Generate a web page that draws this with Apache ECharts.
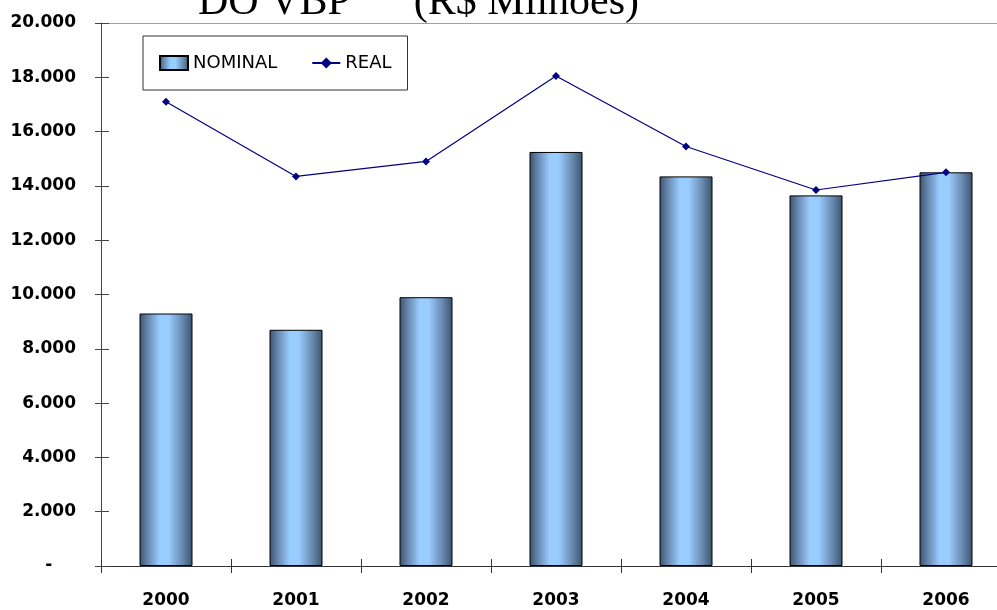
<!DOCTYPE html>
<html>
<head>
<meta charset="utf-8">
<script src="https://cdn.jsdelivr.net/npm/echarts@6/dist/echarts.min.js"></script>
<style>
  html, body { margin: 0; padding: 0; background: #fff; overflow: hidden; }
  /* the original chart runs a bit past the right edge of the picture */
  #chart_div { width: 1011px; height: 610px; }
</style>
</head>
<body>
<div id="chart_div"></div>
<script>
var years = ['2000', '2001', '2002', '2003', '2004', '2005', '2006'];
var nominal = [9300, 8700, 9900, 15250, 14350, 13650, 14500];
var real = [17100, 14350, 14900, 18050, 15450, 13850, 14500];
var yTicks = [0, 2000, 4000, 6000, 8000, 10000, 12000, 14000, 16000, 18000, 20000];

function fmt(v) {
  if (v === 0) return '-    ';
  return String(v).replace(/\B(?=(\d{3})+(?!\d))/g, '.');
}

var barFill = new echarts.graphic.LinearGradient(0, 0, 1, 0, [
  { offset: 0, color: '#3b536d' },
  { offset: 0.15, color: '#6585ab' },
  { offset: 0.38, color: '#99ccff' },
  { offset: 0.55, color: '#99ccff' },
  { offset: 0.8, color: '#6a8cb3' },
  { offset: 1, color: '#3b536d' }
]);

var myChart = echarts.init(document.getElementById('chart_div'));
var yMax = yTicks[yTicks.length - 1];
var step = yTicks[1] - yTicks[0];
myChart.setOption({
  animation: false,
  title: {
    text: 'DO VBP      (R$ Milhões)',
    left: 193,
    top: -23,
    textStyle: { fontFamily: 'Liberation Serif', fontSize: 42, fontWeight: 'normal', color: '#000' }
  },
  legend: {
    left: 143,
    top: 36,
    padding: [18, 16, 18, 16],
    itemGap: 34,
    itemWidth: 28,
    itemHeight: 14,
    backgroundColor: '#fff',
    borderColor: '#333',
    borderWidth: 1,
    borderRadius: 0,
    textStyle: { fontFamily: 'DejaVu Sans', fontSize: 18, color: '#000' },
    data: [{ name: 'NOMINAL', icon: 'rect' }, { name: 'REAL' }]
  },
  grid: { left: 101, top: 23, right: 0, bottom: 44, containLabel: false },
  xAxis: [{
    type: 'category',
    position: 'bottom',
    data: years,
    boundaryGap: true,
    axisLine: { lineStyle: { color: '#333', width: 1 } },
    axisTick: { show: true, length: 7, lineStyle: { color: '#333' } },
    axisLabel: { margin: 26, fontFamily: 'DejaVu Sans', fontWeight: 'bold', fontSize: 17, color: '#000' },
    splitLine: { show: false }
  }, {
    type: 'category',
    position: 'bottom',
    data: years,
    boundaryGap: true,
    axisLine: { show: false },
    axisTick: { show: true, inside: true, length: 7, lineStyle: { color: '#333' } },
    axisLabel: { show: false },
    splitLine: { show: false }
  }, {
    type: 'category',
    position: 'top',
    data: years,
    axisLine: { show: true, lineStyle: { color: '#a0a0a0', width: 1 } },
    axisTick: { show: false },
    axisLabel: { show: false }
  }],
  yAxis: [{
    type: 'value',
    position: 'left',
    min: 0,
    max: yMax,
    interval: step,
    axisLine: { show: true, lineStyle: { color: '#444', width: 1 } },
    axisTick: { show: true, length: 6, lineStyle: { color: '#444' } },
    axisLabel: { margin: 25, formatter: fmt, fontFamily: 'DejaVu Sans', fontWeight: 'bold', fontSize: 17, color: '#000' },
    splitLine: { show: false }
  }, {
    type: 'value',
    position: 'left',
    min: 0,
    max: yMax,
    interval: step,
    axisLine: { show: false },
    axisTick: { show: true, inside: true, length: 8, lineStyle: { color: '#444' } },
    axisLabel: { show: false },
    splitLine: { show: false }
  }],
  series: [{
    name: 'NOMINAL',
    type: 'bar',
    xAxisIndex: 0,
    yAxisIndex: 0,
    barWidth: 53,
    data: nominal,
    itemStyle: { color: barFill, borderColor: '#000', borderWidth: 1 }
  }, {
    name: 'REAL',
    type: 'line',
    xAxisIndex: 0,
    yAxisIndex: 0,
    data: real,
    symbol: 'diamond',
    symbolSize: 8,
    z: 5,
    lineStyle: { color: '#000080', width: 1.2 },
    itemStyle: { color: '#000080' }
  }]
});
</script>
</body>
</html>
